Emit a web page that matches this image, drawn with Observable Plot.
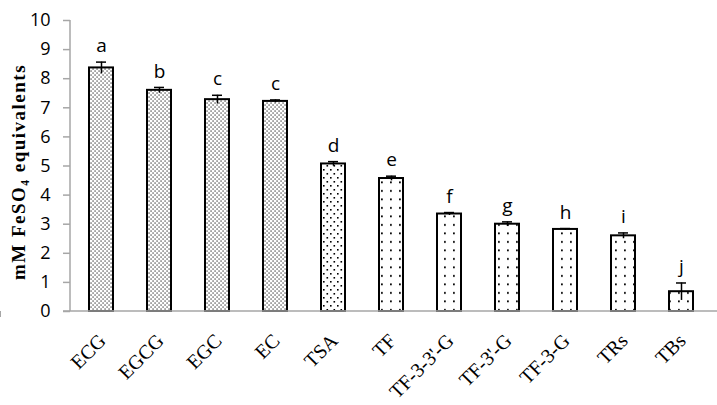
<!DOCTYPE html>
<html><head><meta charset="utf-8">
<script src="https://cdn.jsdelivr.net/npm/d3@7"></script>
<script src="https://cdn.jsdelivr.net/npm/@observablehq/plot@0.6"></script>
<style>body{margin:0;background:#fff} svg{display:block}</style>
</head><body><div id="chart"></div>
<script>
const categories = ["ECG","EGCG","EGC","EC","TSA","TF","TF-3-3'-G","TF-3'-G","TF-3-G","TRs","TBs"];
const values = [8.37, 7.6, 7.28, 7.22, 5.07, 4.57, 3.35, 3.0, 2.82, 2.6, 0.68];
const errors = [0.2, 0.1, 0.15, 0.05, 0.08, 0.08, 0.05, 0.08, 0.03, 0.1, 0.3];
const letters = ["a","b","c","c","d","e","f","g","h","i","j"];
const yTicks = [0,1,2,3,4,5,6,7,8,9,10];
const yTitle = "mM FeSO\u2084 equivalents";

const data = categories.map((c, i) => ({c, v: values[i], e: errors[i], l: letters[i], i}));
const AXIS = "#a6a6a6";
const fillFor = d => d.i < 4 ? "url(#dense)" : d.i === 4 ? "url(#medium)" : "url(#sparse)";

function axesMark(index, scales, values, dimensions) {
  const {x, y} = scales;
  const {marginLeft, width} = dimensions;
  const bw = x.bandwidth;
  const centers = categories.map(c => x(c) + bw / 2);
  const step = centers[1] - centers[0];
  const g = d3.create("svg:g").attr("stroke", AXIS).attr("stroke-width", 1.5).attr("fill", "none");
  const y0 = y(0);
  g.append("line").attr("x1", marginLeft).attr("x2", marginLeft).attr("y1", y0).attr("y2", y(10));
  g.append("line").attr("x1", marginLeft - 7).attr("x2", width).attr("y1", y0).attr("y2", y0);
  const bounds = centers.map(c => c - step / 2).concat([centers[centers.length - 1] + step / 2]);
  for (const b of bounds) {
    g.append("line").attr("x1", b).attr("x2", b).attr("y1", y0).attr("y2", y0 + 6);
  }
  return g.node();
}

const plot = Plot.plot({
  width: 717,
  height: 405,
  marginTop: 20,
  marginBottom: 94,
  marginLeft: 70,
  marginRight: 6,
  style: {fontFamily: "'Open Sans', sans-serif", background: "#fff"},
  x: {domain: categories, paddingInner: 0.59, paddingOuter: 0.295, axis: null},
  y: {domain: [0, 10], axis: null},
  marks: [
    Plot.barY(data, {x: "c", y: "v", fill: fillFor, stroke: "#000", strokeWidth: 2}),
    Plot.ruleX(data, {x: "c", y1: d => d.v - d.e, y2: d => d.v + d.e, stroke: "#000", strokeWidth: 1.5}),
    Plot.tickY(data, {x: "c", y: d => d.v + d.e, stroke: "#000", strokeWidth: 1.5, inset: 7}),
    axesMark,
    Plot.axisY({ticks: yTicks, tickSize: 7, tickPadding: 13, stroke: AXIS, strokeWidth: 1.5, fontSize: 18, fill: "#000", label: null, tickFormat: d => String(d)}),
    Plot.text(data, {x: "c", y: d => d.v + d.e, text: "l", dy: -16, fontSize: 19, fill: "#000"}),
    Plot.text(data, {x: "c", y: 0, text: "c", dy: 26, dx: 1, rotate: -45, textAnchor: "end", fontFamily: "'Liberation Serif', serif", fontSize: 20, fill: "#000"}),
    Plot.text([yTitle], {frameAnchor: "left", dx: -52, dy: 6, rotate: -90, textAnchor: "middle", text: d => d, fontFamily: "'Liberation Serif', serif", fontWeight: "bold", fontSize: 19, fill: "#000"})
  ]
});

d3.select(plot).selectAll("text").filter(function() { return this.textContent === yTitle; }).attr("letter-spacing", "1.5px");

const defs = d3.select(plot).insert("defs", ":first-child");
function pat(id, w, h, dots, r) {
  const p = defs.append("pattern").attr("id", id).attr("patternUnits", "userSpaceOnUse").attr("width", w).attr("height", h);
  p.append("rect").attr("width", w).attr("height", h).attr("fill", "#fff");
  for (const [cx, cy] of dots) p.append("rect").attr("x", cx).attr("y", cy).attr("width", r).attr("height", r).attr("fill", "#000");
}
pat("dense", 4, 4, [[0.5, 0.5], [2.5, 2.5]], 1.1);
pat("medium", 7, 8, [[1, 1], [4.5, 5]], 1.6);
pat("sparse", 9, 8.5, [[3, 3]], 1.8);

document.getElementById("chart").append(plot);
</script>
</body></html>
